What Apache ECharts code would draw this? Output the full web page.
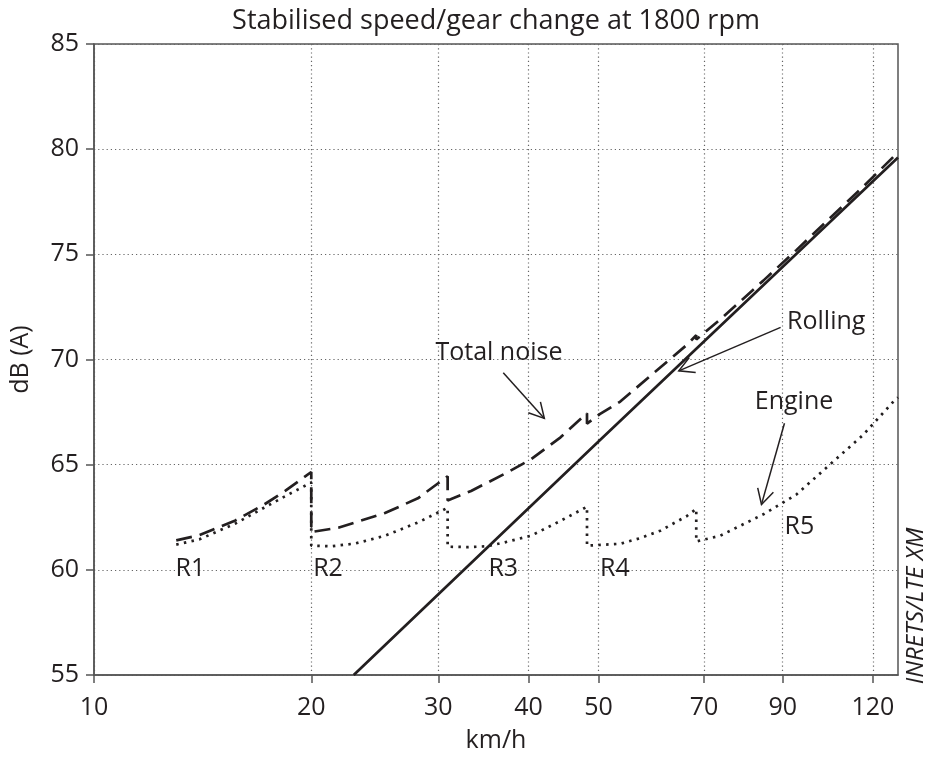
<!DOCTYPE html>
<html><head><meta charset="utf-8">
<script src="https://cdn.jsdelivr.net/npm/echarts@6/dist/echarts.min.js"></script>
<style>html,body{margin:0;padding:0;background:#fff}#c{width:928px;height:758px}</style>
</head><body><div id="c"></div>
<script>
// ---- data (km/h, dB(A)) ----
const xTicks = [10, 20, 30, 40, 50, 70, 90, 120];
const rollingSpeed = [22.9, 50, 130];
const rollingDb = [55.0, 66.1, 79.6];
const engineSpeed = [13, 14, 15.7, 17.2, 18.4, 20, 20, 21.3, 23, 25.3, 28.1, 30.9, 30.9, 33, 35, 37, 40.3, 44.3, 48.2, 48.2, 53.6, 57, 60.9, 66.3, 68.3, 68.3, 73.7, 84.6, 94, 104.5, 116.2, 127.9, 130];
const engineDb =    [61.2, 61.45, 62.2, 62.95, 63.5, 64.15, 61.15, 61.12, 61.25, 61.62, 62.25, 62.95, 61.1, 61.08, 61.12, 61.3, 61.62, 62.33, 63.0, 61.15, 61.24, 61.5, 61.86, 62.56, 62.9, 61.35, 61.62, 62.64, 63.58, 64.99, 66.4, 67.97, 68.2];
const totalSpeed = [13, 14, 15.7, 17.2, 18.4, 20, 20, 21.8, 25.3, 28.1, 30.9, 30.9, 33.3, 37, 40.3, 44.3, 48.2, 48.2, 50.2, 53.6, 58.9, 66.3, 68.3, 68.3, 73.7, 84.6, 94, 104.5, 116.2, 130];
const totalDb =    [61.4, 61.65, 62.35, 63.1, 63.75, 64.65, 61.8, 62.0, 62.7, 63.4, 64.45, 63.3, 63.75, 64.55, 65.25, 66.3, 67.45, 66.95, 67.4, 68.0, 69.2, 70.7, 71.15, 70.95, 71.9, 73.75, 75.2, 76.7, 78.2, 79.85];

// annotations (data coordinates)
const annoText = ['Total noise', 'Rolling', 'Engine', 'R1', 'R2', 'R3', 'R4', 'R5'];
const annoSpeed = [36.4, 103.4, 93.3, 13.6, 21.1, 36.9, 52.7, 94.9];
const annoDb = [70.31, 71.77, 68.0, 60.06, 60.06, 60.06, 60.06, 62.03];
const arrowFromSpeed = [36.9, 89.4, 90.5];
const arrowFromDb = [69.37, 71.53, 66.97];
const arrowToSpeed = [42.07, 64.6, 84.1];
const arrowToDb = [67.2, 69.46, 63.11];

const zip = (a, b) => a.map((v, i) => [v, b[i]]);
const INK = '#231f20';
const FONT = 'Open Sans';
const GRIDC = '#666';

const chart = echarts.init(document.getElementById('c'), null, {renderer: 'canvas'});
const option = {
  animation: false,
  backgroundColor: '#fff',
  textStyle: {fontFamily: FONT, color: INK},
  grid: {left: 92, right: 30, top: 44, bottom: 75, show: true, borderColor: '#555', borderWidth: 1.5, containLabel: false},
  xAxis: {
    type: 'log', logBase: 10, min: 10, max: 130,
    name: 'km/h', nameLocation: 'middle', nameGap: 53,
    nameTextStyle: {fontSize: 25, color: INK, fontFamily: FONT},
    axisLine: {show: true, lineStyle: {color: '#555', width: 1.5}},
    axisTick: {show: true, inside: false, length: 8, customValues: xTicks, lineStyle: {color: '#555', width: 1.5}},
    axisLabel: {customValues: xTicks, fontSize: 25, color: INK, fontFamily: FONT, margin: 20},
    splitLine: {show: true, lineStyle: {color: GRIDC, width: 1.2, type: [1.2, 3]}},
    minorTick: {show: false}, minorSplitLine: {show: false}
  },
  yAxis: {
    type: 'value', min: 55, max: 85, interval: 5,
    name: 'dB (A)', nameLocation: 'middle', nameGap: 61,
    nameTextStyle: {fontSize: 25, color: INK, fontFamily: FONT},
    axisLine: {show: true, lineStyle: {color: '#555', width: 1.5}},
    axisTick: {show: true, inside: false, length: 8, lineStyle: {color: '#555', width: 1.5}},
    axisLabel: {fontSize: 25, color: INK, fontFamily: FONT, margin: 15},
    splitLine: {show: true, lineStyle: {color: GRIDC, width: 1.2, type: [1.2, 3]}}
  },
  series: [
    {name: 'Rolling', type: 'line', data: zip(rollingSpeed, rollingDb), symbol: 'none', lineStyle: {color: INK, width: 2.7}, z: 3},
    {name: 'Total noise', type: 'line', data: zip(totalSpeed, totalDb), symbol: 'none', lineStyle: {color: INK, width: 2.7, type: [16, 8]}, z: 4},
    {name: 'Engine', type: 'line', data: zip(engineSpeed, engineDb), symbol: 'none', lineStyle: {color: INK, width: 2.7, type: [2.5, 5.3]}, z: 4}
  ]
};
chart.setOption(option);

// annotation graphics placed through the chart's own coordinate conversion
const px = (v, d) => chart.convertToPixel({gridIndex: 0}, [v, d]);
const graphics = [];
graphics.push({type: 'text', x: 496, y: 21, style: {text: 'Stabilised speed/gear change at 1800 rpm', font: '27px "Open Sans"', fill: INK, textAlign: 'center', textVerticalAlign: 'middle'}});
graphics.push({type: 'text', x: 916, y: 606, rotation: Math.PI / 2, style: {text: 'INRETS/LTE XM', font: 'italic 24px "Open Sans"', fill: INK, textAlign: 'center', textVerticalAlign: 'middle'}});
annoText.forEach((t, i) => {
  const p = px(annoSpeed[i], annoDb[i]);
  graphics.push({type: 'text', x: p[0], y: p[1], style: {text: t, font: '25px "Open Sans"', fill: INK, textAlign: 'center', textVerticalAlign: 'middle'}, z: 10});
});
arrowFromSpeed.forEach((s, i) => {
  const a = px(s, arrowFromDb[i]);
  const b = px(arrowToSpeed[i], arrowToDb[i]);
  const ang = Math.atan2(a[1] - b[1], a[0] - b[0]);
  const L = 17, h = 0.5;
  const w1 = [b[0] + L * Math.cos(ang + h), b[1] + L * Math.sin(ang + h)];
  const w2 = [b[0] + L * Math.cos(ang - h), b[1] + L * Math.sin(ang - h)];
  graphics.push({type: 'polyline', shape: {points: [a, b]}, style: {stroke: INK, lineWidth: 1.5, fill: null}, z: 10});
  graphics.push({type: 'polyline', shape: {points: [w1, b, w2]}, style: {stroke: INK, lineWidth: 1.5, fill: null}, z: 10});
});
chart.setOption({graphic: graphics});
</script>
</body></html>
